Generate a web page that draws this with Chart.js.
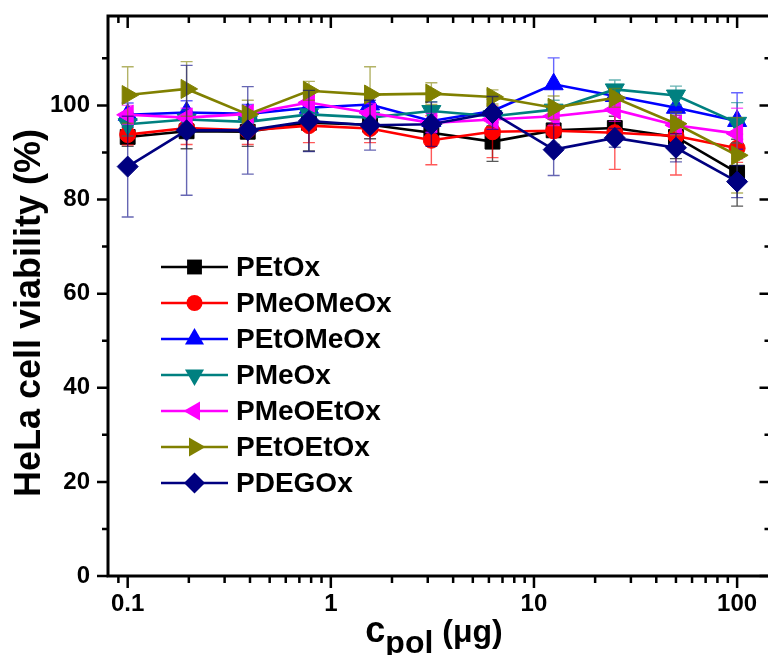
<!DOCTYPE html>
<html>
<head>
<meta charset="utf-8">
<title>HeLa cell viability</title>
<script src="https://cdn.jsdelivr.net/npm/chart.js@4.4.1/dist/chart.umd.min.js"></script>
<style>
  html, body { margin: 0; padding: 0; background: #fff; overflow: hidden; }
  #chart { display: block; width: 790px; height: 655px; }
</style>
</head>
<body>
<canvas id="chart" width="790" height="655"></canvas>
<script>
// concentrations (µg)
const concentrations = [0.1, 0.195, 0.39, 0.78, 1.56, 3.125, 6.25, 12.5, 25, 50, 100];

// viability values (%)
const pEtOx      = [93.3, 94.5, 94.4, 96.3, 95.9, 94.2, 92.3, 94.7, 95.2, 93.3, 85.7];
const pMeOMeOx   = [93.8, 95.2, 94.7, 95.7, 95.1, 92.6, 94.4, 94.6, 94.2, 93.5, 90.9];
const pEtOMeOx   = [98.0, 98.5, 98.2, 99.5, 100.2, 96.7, 98.8, 104.5, 102.0, 99.5, 96.7];
const pMeOx      = [96.0, 97.0, 96.5, 98.1, 97.4, 98.8, 97.7, 99.1, 103.4, 102.1, 96.3];
const pMeOEtOx   = [98.0, 97.4, 98.2, 100.6, 98.4, 96.3, 97.0, 97.7, 99.1, 95.8, 94.0];
const pEtOEtOx   = [102.2, 103.5, 98.1, 103.1, 102.3, 102.5, 101.8, 99.5, 101.6, 96.1, 89.4];
const pDEGOx     = [87.0, 94.7, 94.7, 96.7, 95.8, 96.0, 98.4, 90.6, 93.1, 91.0, 83.8];

// standard deviations (%)
const pEtOxErr    = [2.0, 3.7, 3.1, 6.0, 3.0, 2.5, 4.2, 3.0, 2.5, 4.6, 7.1];
const pMeOMeOxErr = [2.2, 3.5, 3.0, 3.6, 3.0, 5.2, 5.5, 3.5, 7.8, 8.3, 3.0];
const pEtOMeOxErr = [2.5, 2.5, 2.0, 2.5, 2.5, 2.5, 2.5, 5.6, 2.0, 2.5, 6.0];
const pMeOxErr    = [2.5, 2.0, 2.0, 2.0, 2.0, 2.0, 2.0, 2.0, 2.0, 2.0, 4.3];
const pMeOEtOxErr = [2.0, 2.0, 1.7, 2.5, 2.0, 2.0, 2.0, 2.0, 2.5, 2.0, 5.4];
const pEtOEtOxErr = [6.0, 5.8, 3.0, 2.0, 5.9, 2.3, 1.5, 2.5, 2.0, 2.5, 8.0];
const pDEGOxErr   = [10.7, 13.8, 9.3, 6.5, 5.3, 4.7, 3.5, 5.5, 2.0, 3.0, 3.4];

const seriesNames = ["PEtOx", "PMeOMeOx", "PEtOMeOx", "PMeOx", "PMeOEtOx", "PEtOEtOx", "PDEGOx"];
const seriesValues = [pEtOx, pMeOMeOx, pEtOMeOx, pMeOx, pMeOEtOx, pEtOEtOx, pDEGOx];
const seriesErrors = [pEtOxErr, pMeOMeOxErr, pEtOMeOxErr, pMeOxErr, pMeOEtOxErr, pEtOEtOxErr, pDEGOxErr];

// axis ticks
const xTickLabels = [0.1, 1, 10, 100];
const xMinorTicks = [0.09, 0.2, 0.3, 0.4, 0.5, 0.6, 0.7, 0.8, 0.9, 2, 3, 4, 5, 6, 7, 8, 9, 20, 30, 40, 50, 60, 70, 80, 90];
const yTickLabels = [0, 20, 40, 60, 80, 100];
const yMinorTicks = [10, 30, 50, 70, 90, 110];

// marker styles (Origin-like)
const seriesStyles = [
  { color: "#000000", error: "rgba(0,0,0,0.65)",     pointStyle: "rect",     radius: 10.5, rotation: 0 },
  { color: "#ff0000", error: "rgba(255,0,0,0.65)",   pointStyle: "circle",   radius: 8,    rotation: 0 },
  { color: "#0000ff", error: "rgba(0,0,255,0.6)",    pointStyle: "triangle", radius: 11,   rotation: 0 },
  { color: "#008080", error: "rgba(0,128,128,0.6)",  pointStyle: "triangle", radius: 11,   rotation: 180 },
  { color: "#ff00ff", error: "rgba(255,0,255,0.6)",  pointStyle: "triangle", radius: 11,   rotation: -90 },
  { color: "#808000", error: "rgba(128,128,0,0.6)",  pointStyle: "triangle", radius: 11,   rotation: 90 },
  { color: "#000080", error: "rgba(0,0,128,0.6)",    pointStyle: "rectRot",  radius: 10.5, rotation: 0 },
];

const FONT = '"Liberation Sans", Arial, Helvetica, sans-serif';

const datasets = seriesNames.map((name, i) => ({
  label: name,
  data: concentrations.map((c, k) => ({ x: c, y: seriesValues[i][k] })),
  errors: seriesErrors[i],
  errorColor: seriesStyles[i].error,
  borderColor: seriesStyles[i].color,
  backgroundColor: seriesStyles[i].color,
  pointBackgroundColor: seriesStyles[i].color,
  pointBorderColor: seriesStyles[i].color,
  pointBorderWidth: 1,
  pointStyle: seriesStyles[i].pointStyle,
  pointRadius: seriesStyles[i].radius,
  pointRotation: seriesStyles[i].rotation,
  pointHoverRadius: seriesStyles[i].radius,
  borderWidth: 2.6,
  tension: 0,
  fill: false,
  clip: false,
  order: seriesNames.length - 1 - i, // last series on top, as in Origin
}));

// vertical error bars with caps, drawn just beneath each series
const errorBarsPlugin = {
  id: "errorBars",
  beforeDatasetDraw(chart, args) {
    const ds = chart.data.datasets[args.index];
    if (!ds.errors) return;
    const { ctx } = chart;
    const xs = chart.scales.x;
    const ys = chart.scales.y;
    ctx.save();
    ctx.strokeStyle = ds.errorColor;
    ctx.lineWidth = 1.4;
    ds.data.forEach((pt, k) => {
      const err = ds.errors[k];
      const px = xs.getPixelForValue(pt.x);
      const top = ys.getPixelForValue(pt.y + err);
      const bot = ys.getPixelForValue(pt.y - err);
      ctx.beginPath();
      ctx.moveTo(px, top);
      ctx.lineTo(px, bot);
      ctx.moveTo(px - 6, top);
      ctx.lineTo(px + 6, top);
      ctx.moveTo(px - 6, bot);
      ctx.lineTo(px + 6, bot);
      ctx.stroke();
    });
    ctx.restore();
  },
};

function drawMarker(ctx, style, x, y) {
  const r = style.radius;
  ctx.beginPath();
  if (style.pointStyle === "circle") {
    ctx.arc(x, y, r, 0, Math.PI * 2);
  } else if (style.pointStyle === "rect") {
    const s = r * Math.SQRT1_2;
    ctx.rect(x - s, y - s, 2 * s, 2 * s);
  } else if (style.pointStyle === "rectRot") {
    ctx.moveTo(x, y - r);
    ctx.lineTo(x + r, y);
    ctx.lineTo(x, y + r);
    ctx.lineTo(x - r, y);
  } else {
    let a = (style.rotation * Math.PI) / 180;
    for (let j = 0; j < 3; j++) {
      const vx = x + Math.sin(a) * r;
      const vy = y - Math.cos(a) * r;
      if (j === 0) ctx.moveTo(vx, vy);
      else ctx.lineTo(vx, vy);
      a += (2 * Math.PI) / 3;
    }
  }
  ctx.closePath();
  ctx.fill();
}

// frame, tick marks, axis titles and legend
const decorPlugin = {
  id: "decor",
  afterDraw(chart) {
    const { ctx, chartArea: a } = chart;
    const xs = chart.scales.x;
    const ys = chart.scales.y;
    ctx.save();
    ctx.strokeStyle = "#000";
    ctx.lineCap = "butt";

    // tick marks
    ctx.lineWidth = 2.5;
    ctx.beginPath();
    const xTick = (v, len) => {
      const px = xs.getPixelForValue(v);
      ctx.moveTo(px, a.bottom);
      ctx.lineTo(px, a.bottom + len);
      ctx.moveTo(px, a.top);
      ctx.lineTo(px, a.top + len);
    };
    xTickLabels.forEach((v) => xTick(v, 12));
    xMinorTicks.forEach((v) => xTick(v, 7));
    const yTick = (v, len) => {
      const py = ys.getPixelForValue(v);
      ctx.moveTo(a.left, py);
      ctx.lineTo(a.left - len, py);
      ctx.moveTo(a.right, py);
      ctx.lineTo(a.right - len, py);
    };
    yTickLabels.forEach((v) => yTick(v, 11));
    yMinorTicks.forEach((v) => yTick(v, 6));
    ctx.stroke();

    // frame
    ctx.lineWidth = 3;
    ctx.strokeRect(a.left, a.top, a.right - a.left, a.bottom - a.top);

    // y title
    ctx.fillStyle = "#000";
    ctx.save();
    ctx.translate(30, 313);
    ctx.rotate(-Math.PI / 2);
    ctx.font = "bold 36px " + FONT;
    ctx.textAlign = "center";
    ctx.textBaseline = "middle";
    ctx.fillText("HeLa cell viability (%)", 0, 0);
    ctx.restore();

    // x title: c_pol (µg)
    ctx.textAlign = "left";
    ctx.textBaseline = "alphabetic";
    const partC = { text: "c", font: "bold 36px " + FONT, dy: 0 };
    const partSub = { text: "pol", font: "bold 32px " + FONT, dy: 11 };
    const partUnit = { text: " (\u03bcg)", font: "bold 32px " + FONT, dy: 0 };
    const parts = [partC, partSub, partUnit];
    let total = 0;
    parts.forEach((p) => {
      ctx.font = p.font;
      p.w = ctx.measureText(p.text).width;
      total += p.w;
    });
    let tx = 434 - total / 2;
    parts.forEach((p) => {
      ctx.font = p.font;
      ctx.fillText(p.text, tx, 642 + p.dy);
      tx += p.w;
    });

    // legend
    ctx.font = "bold 28px " + FONT;
    ctx.textBaseline = "middle";
    seriesNames.forEach((name, i) => {
      const st = seriesStyles[i];
      const ly = 267 + i * 36;
      ctx.strokeStyle = st.color;
      ctx.fillStyle = st.color;
      ctx.lineWidth = 2.5;
      ctx.beginPath();
      ctx.moveTo(161, ly);
      ctx.lineTo(228, ly);
      ctx.stroke();
      drawMarker(ctx, st, 194.5, ly);
      ctx.fillStyle = "#000";
      ctx.fillText(name, 236, ly + 1);
    });
    ctx.restore();
  },
};

new Chart(document.getElementById("chart"), {
  type: "line",
  data: { datasets },
  options: {
    responsive: false,
    animation: false,
    events: [],
    layout: { padding: { top: 16, right: 19.5, left: 0, bottom: 0 } },
    scales: {
      x: {
        type: "logarithmic",
        position: "bottom",
        min: 0.08,
        max: 146,
        grid: { display: false, drawTicks: false },
        border: { display: false },
        afterBuildTicks: (s) => { s.ticks = xTickLabels.map((v) => ({ value: v })); },
        afterFit: (s) => {
          s.height = 79;
          s.paddingLeft = 0;
          s.paddingRight = 0;
        },
        ticks: {
          autoSkip: false,
          maxRotation: 0,
          padding: 14,
          color: "#000",
          font: { family: FONT, size: 24, weight: "bold" },
          callback: (v) => String(v),
        },
      },
      y: {
        type: "linear",
        min: 0,
        max: 119,
        grid: { display: false, drawTicks: false },
        border: { display: false },
        afterBuildTicks: (s) => { s.ticks = yTickLabels.map((v) => ({ value: v })); },
        afterFit: (s) => {
          s.width = 108;
          s.paddingTop = 0;
          s.paddingBottom = 0;
        },
        ticks: {
          padding: 18,
          color: "#000",
          font: { family: FONT, size: 24, weight: "bold" },
          callback: (v) => String(v),
        },
      },
    },
    plugins: {
      legend: { display: false },
      tooltip: { enabled: false },
    },
  },
  plugins: [errorBarsPlugin, decorPlugin],
});
</script>
</body>
</html>
